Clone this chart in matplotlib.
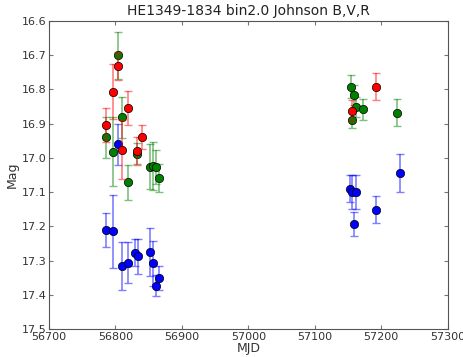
#!/usr/bin/env python
# -*- coding: utf-8 -*-

import matplotlib
matplotlib.use('Agg')
import matplotlib.pyplot as plt

# Johnson B
mjd_b = [56785.5, 56796.5, 56803.5, 56810, 56819.5, 56829, 56834.5, 56852, 56857, 56861.5, 56865.5,
         57153.5, 57155.5, 57158.5, 57162.5, 57192.5, 57228]
mag_b = [17.211, 17.215, 16.961, 17.316, 17.306, 17.277, 17.288, 17.276, 17.308, 17.373, 17.350,
         17.090, 17.100, 17.194, 17.100, 17.151, 17.044]
err_b = [0.05, 0.107, 0.06, 0.07, 0.06, 0.04, 0.05, 0.07, 0.065, 0.03, 0.035,
         0.04, 0.05, 0.035, 0.05, 0.04, 0.055]

# Johnson V
mjd_v = [56785.5, 56796.5, 56803.5, 56810, 56819.5, 56832, 56852, 56857, 56861.5, 56865.5,
         57154.5, 57155.5, 57158.5, 57162, 57173, 57224]
mag_v = [16.940, 16.982, 16.701, 16.881, 17.072, 16.988, 17.026, 17.023, 17.026, 17.059,
         16.792, 16.889, 16.816, 16.852, 16.858, 16.868]
err_v = [0.06, 0.10, 0.07, 0.06, 0.05, 0.03, 0.065, 0.07, 0.05, 0.04,
         0.033, 0.025, 0.03, 0.03, 0.03, 0.04]

# Johnson R
mjd_r = [56785.5, 56796.5, 56803.5, 56810, 56819.5, 56832, 56840.5, 57156.5, 57192.5]
mag_r = [16.905, 16.807, 16.732, 16.976, 16.854, 16.980, 16.939, 16.862, 16.792]
err_r = [0.05, 0.08, 0.04, 0.087, 0.05, 0.04, 0.035, 0.03, 0.04]

fig = plt.figure(figsize=(4.64, 3.57), dpi=100)
ax = fig.add_axes([0.1056, 0.0784, 0.859, 0.863])

for x, y, e, c in [(mjd_b, mag_b, err_b, 'b'),
                   (mjd_v, mag_v, err_v, (0, 0.5, 0)),
                   (mjd_r, mag_r, err_r, 'r')]:
    ax.errorbar(x, y, yerr=e, fmt='none', ecolor=c, alpha=0.5, capsize=3, elinewidth=1.2, capthick=1)
    ax.plot(x, y, 'o', color=c, markersize=6, markeredgecolor='k', markeredgewidth=0.5)

ax.set_xlim(56700, 57300)
ax.set_ylim(17.5, 16.6)
ax.set_xticks(range(56700, 57301, 100))
ax.set_yticks([16.6 + 0.1 * i for i in range(10)])
ax.set_yticklabels(['%.1f' % (16.6 + 0.1 * i) for i in range(10)])
for s in ax.spines.values():
    s.set_color('#555555')
ax.tick_params(direction='in', top=True, right=True, labelsize=8, length=3,
               color='#777777', labelcolor='#333333', pad=2)
ax.set_xlabel('MJD', fontsize=9, labelpad=0, color='#333333')
ax.set_ylabel('Mag', fontsize=9, labelpad=2, color='#333333')
ax.set_title('HE1349-1834 bin2.0 Johnson B,V,R', fontsize=10, pad=4, color='#222222')

plt.savefig('out.png', dpi=100)
